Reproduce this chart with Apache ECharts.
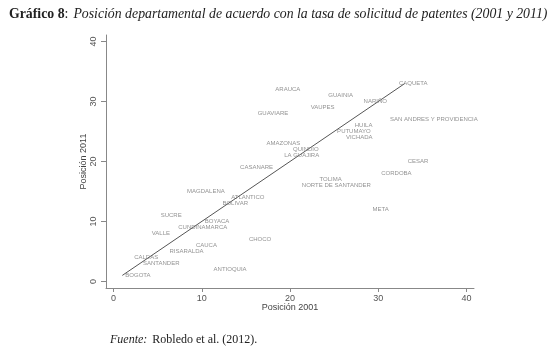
<!DOCTYPE html>
<html>
<head>
<meta charset="utf-8">
<script src="https://cdn.jsdelivr.net/npm/echarts@6/dist/echarts.min.js"></script>
<style>
  html, body { margin: 0; padding: 0; background: #fff; }
  #main { width: 559px; height: 351px; }
</style>
</head>
<body>
<div id="main"></div>
<script>
// departamentos y posiciones (2001, 2011)
const departamentos = ['BOGOTA', 'CALDAS', 'SANTANDER', 'VALLE', 'SUCRE', 'RISARALDA', 'CUNDINAMARCA',
  'MAGDALENA', 'CAUCA', 'BOYACA', 'ANTIOQUIA', 'BOLIVAR', 'ATLANTICO', 'CASANARE', 'CHOCO',
  'GUAVIARE', 'AMAZONAS', 'ARAUCA', 'LA GUAJIRA', 'QUINDIO', 'NORTE DE SANTANDER', 'VAUPES',
  'TOLIMA', 'GUAINIA', 'PUTUMAYO', 'VICHADA', 'HUILA', 'NARIÑO', 'META', 'CORDOBA',
  'SAN ANDRES Y PROVIDENCIA', 'CAQUETA', 'CESAR'];
const pos2001 = [1, 2, 3, 4, 5, 6, 7, 8, 9, 10, 11, 12, 13, 14, 15, 16, 17, 18, 19, 20, 21, 22,
  23, 24, 25, 26, 27, 28, 29, 30, 31, 32, 33];
const pos2011 = [1, 4, 3, 8, 11, 5, 9, 15, 6, 10, 2, 13, 14, 19, 7, 28, 23, 32, 21, 22, 16, 29,
  17, 31, 25, 24, 26, 30, 12, 18, 27, 33, 20];

// linea de 45 grados
const lineaX = [1, 33];
const lineaY = [1, 33];

const ticksX = [0, 10, 20, 30, 40];
const ticksY = [0, 10, 20, 30, 40];

let puntos = [];
departamentos.forEach((d, i) => {
    puntos.push({ name: d, value: [pos2001[i], pos2011[i]] });
});
let linea = lineaX.map((x, i) => [x, lineaY[i]]);

let chart = echarts.init(document.getElementById('main'));

const serif = 'Liberation Serif';
const sans = 'Liberation Sans';

const option = {
    animation: false,
    title: [
        {
            left: 4,
            top: 0,
            text: '{b|Gráfico 8}{n|:} {i|Posición departamental de acuerdo con la tasa de solicitud de patentes (2001 y 2011)}',
            textStyle: {
                fontWeight: 'normal',
                rich: {
                    b: { fontFamily: serif, fontWeight: 'bold', fontSize: 13.8, color: '#222' },
                    n: { fontFamily: serif, fontWeight: 'normal', fontSize: 13.8, color: '#222' },
                    i: { fontFamily: serif, fontWeight: 'normal', fontStyle: 'italic', fontSize: 13.8, color: '#222' }
                }
            }
        },
        {
            left: 105,
            top: 326,
            text: '{i|Fuente:} {n|Robledo et al. (2012).}',
            textStyle: {
                fontWeight: 'normal',
                rich: {
                    i: { fontFamily: serif, fontWeight: 'normal', fontStyle: 'italic', fontSize: 12, color: '#222' },
                    n: { fontFamily: serif, fontWeight: 'normal', fontSize: 12, color: '#222' }
                }
            }
        }
    ],
    grid: { left: 106, top: 35, right: 85, bottom: 63 },
    xAxis: {
        type: 'value',
        min: -0.85,
        max: 40.85,
        name: 'Posición 2001',
        nameLocation: 'middle',
        nameGap: 15,
        nameMoveOverlap: false,
        nameTextStyle: { fontFamily: sans, fontSize: 9, color: '#444' },
        axisLine: { show: true, onZero: false, lineStyle: { color: '#888', width: 1 } },
        axisTick: { show: true, length: 4, customValues: ticksX, lineStyle: { color: '#888' } },
        axisLabel: { customValues: ticksX, margin: 6, fontFamily: sans, fontSize: 9, color: '#555' },
        splitLine: { show: false }
    },
    yAxis: {
        type: 'value',
        min: -1.1,
        max: 41.1,
        name: 'Posición 2011',
        nameLocation: 'middle',
        nameGap: 18,
        nameMoveOverlap: false,
        nameRotate: 90,
        nameTextStyle: { fontFamily: sans, fontSize: 9, color: '#444' },
        axisLine: { show: true, onZero: false, lineStyle: { color: '#888', width: 1 } },
        axisTick: { show: true, length: 5, customValues: ticksY, lineStyle: { color: '#888' } },
        axisLabel: { customValues: ticksY, rotate: 90, margin: 8, fontFamily: sans, fontSize: 9, color: '#555' },
        splitLine: { show: false }
    },
    series: [
        {
            type: 'line',
            data: linea,
            symbol: 'none',
            lineStyle: { color: '#555', width: 1 },
            z: 1
        },
        {
            type: 'scatter',
            data: puntos,
            symbolSize: 0,
            label: {
                show: true,
                position: 'right',
                distance: 3,
                formatter: p => p.name,
                fontFamily: sans,
                fontSize: 6,
                color: '#777'
            },
            z: 2
        }
    ]
};
chart.setOption(option);
</script>
</body>
</html>
